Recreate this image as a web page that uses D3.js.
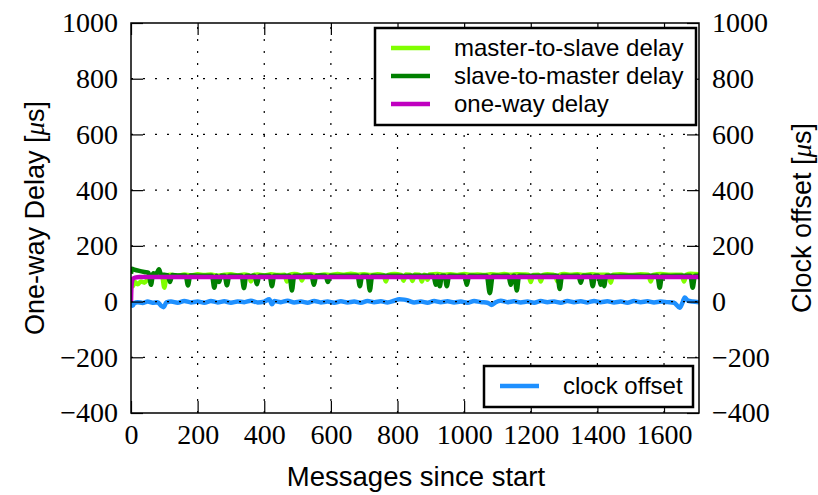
<!DOCTYPE html>
<html><head><meta charset="utf-8">
<script src="https://cdn.jsdelivr.net/npm/d3@7"></script>
<style>body{margin:0;background:#fff}svg{display:block}
.serifText{font-family:'Liberation Serif';}
.sansText{font-family:'Liberation Sans';}
</style>
</head><body>
<script>
// ---- data ----
const xTicks = [0,200,400,600,800,1000,1200,1400,1600];
const yTicks = [-400,-200,0,200,400,600,800,1000];
const xMax = 1705;

const masterToSlave = [[0,60],[5,55],[12,70],[20,62],[30,72],[40,68],[50,80],[60,92],[70,95],[85,93],[93,94],[100,50],[107,92],[120,96],[140,93],[160,97],[180,94],[200,98],[220,95],[240,97],[260,93],[280,96],[300,98],[320,94],[340,97],[353,95],[360,72],[367,95],[380,97],[400,94],[420,98],[440,95],[461,96],[468,72],[475,96],[490,99],[506,95],[513,76],[520,96],[540,98],[560,94],[580,97],[600,95],[620,99],[640,96],[660,100],[680,96],[700,98],[720,95],[740,98],[758,95],[765,72],[772,96],[790,99],[811,96],[818,75],[825,97],[838,96],[845,74],[852,97],[866,96],[873,72],[880,96],[884,95],[890,78],[896,97],[920,99],[940,96],[960,98],[980,95],[1000,99],[1020,96],[1040,97],[1060,95],[1080,98],[1100,96],[1120,99],[1140,96],[1160,98],[1180,97],[1193,96],[1200,70],[1207,95],[1223,96],[1230,72],[1237,96],[1250,98],[1268,96],[1273,95],[1280,72],[1287,96],[1300,99],[1320,96],[1340,98],[1360,95],[1380,98],[1400,96],[1433,96],[1440,68],[1447,96],[1470,98],[1500,95],[1530,98],[1553,96],[1560,72],[1567,96],[1590,99],[1620,96],[1653,96],[1660,72],[1667,96],[1680,100],[1705,98]];

const slaveToMaster = [[0,100],[3,118],[10,115],[25,110],[40,106],[53,103],[60,60],[67,102],[75,98],[84,116],[90,98],[100,96],[110,95],[117,70],[124,95],[140,94],[164,94],[171,58],[178,94],[200,93],[243,93],[250,50],[257,93],[264,70],[271,93],[281,93],[288,58],[295,93],[310,93],[332,93],[339,48],[346,93],[360,92],[371,93],[378,62],[385,93],[400,93],[416,93],[423,55],[430,93],[450,92],[476,93],[483,40],[490,93],[510,93],[542,93],[549,60],[556,93],[570,94],[584,93],[591,70],[598,93],[620,92],[650,93],[680,93],[687,55],[694,93],[710,93],[717,40],[724,93],[740,92],[780,93],[820,92],[860,93],[908,93],[915,60],[921,93],[927,55],[933,93],[941,93],[948,55],[955,93],[980,92],[1001,93],[1008,60],[1015,93],[1040,92],[1068,93],[1077,30],[1086,93],[1110,92],[1133,93],[1140,60],[1147,93],[1151,93],[1158,40],[1165,93],[1190,92],[1220,93],[1250,93],[1280,93],[1287,45],[1294,93],[1320,92],[1343,93],[1350,68],[1357,93],[1379,93],[1386,55],[1393,93],[1403,93],[1410,60],[1415,85],[1420,55],[1427,93],[1460,92],[1500,93],[1540,92],[1580,93],[1587,50],[1594,93],[1620,92],[1650,93],[1679,93],[1686,50],[1693,93],[1705,93]];

const oneWayDelay = [[0,0],[1,45],[3,72],[6,82],[12,86],[25,88],[200,88],[600,88],[1000,88],[1400,88],[1705,88]];

const clockOffset = [[0,-3],[5,-15],[10,-5],[20,-2],[35,-5],[50,0],[65,-4],[80,-2],[90,-15],[98,-20],[106,-3],[120,0],[140,-4],[160,2],[180,-3],[200,0],[220,-4],[240,2],[260,-3],[280,1],[300,-4],[320,0],[340,-2],[360,3],[380,-3],[400,0],[415,8],[423,-10],[430,2],[450,-2],[470,3],[490,-3],[510,0],[530,-4],[550,2],[570,-3],[590,0],[610,-4],[630,1],[650,-3],[670,0],[690,-4],[710,2],[730,-2],[750,1],[770,-3],[790,3],[805,8],[820,7],[835,2],[850,-3],[870,0],[890,-4],[910,2],[930,-2],[950,1],[970,-3],[990,0],[1010,-4],[1030,2],[1050,-2],[1070,-4],[1083,-12],[1095,-2],[1110,3],[1130,-2],[1150,1],[1170,-3],[1190,0],[1210,-4],[1230,2],[1250,-2],[1270,0],[1290,-4],[1310,2],[1330,-2],[1350,1],[1370,-3],[1390,2],[1410,-2],[1430,1],[1450,-3],[1470,0],[1490,-4],[1510,2],[1530,-2],[1550,1],[1570,-3],[1590,0],[1610,-2],[1630,-4],[1647,-22],[1655,-5],[1662,15],[1670,5],[1685,0],[1705,-2]];

const legendTop = ["master-to-slave delay","slave-to-master delay","one-way delay"];
const legendBottom = ["clock offset"];
const colors = {m2s:"#80ff00", s2m:"#008000", owd:"#c000c0", clk:"#1e90ff"};

// ---- layout ----
const W = 818, H = 495;
const L = 131, R = 699, T = 23, B = 413;
const svg = d3.select("body").append("svg").attr("width", W).attr("height", H);
const x = d3.scaleLinear().domain([0, xMax]).range([L, R]);
const y = d3.scaleLinear().domain([-400, 1000]).range([B, T]);
const y2 = d3.scaleLinear().domain([-400, 1000]).range([B, T]);

const line = d3.line().curve(d3.curveMonotoneX).x(d => x(d[0])).y(d => y(d[1]));
const line2 = d3.line().curve(d3.curveMonotoneX).x(d => x(d[0])).y(d => y2(d[1]));

svg.append("clipPath").attr("id","clip").append("rect")
  .attr("x", L).attr("y", T).attr("width", R-L).attr("height", B-T);

// clock offset (drawn first, under grid)
svg.append("path").datum(clockOffset).attr("d", line2).attr("fill","none")
  .attr("stroke", colors.clk).attr("stroke-width", 4.5).attr("stroke-linejoin","round")
  .attr("clip-path","url(#clip)");

// grid
const grid = svg.append("g").attr("stroke","#000").attr("stroke-width",1.2)
  .attr("stroke-dasharray","2,10");
grid.selectAll("line.gx").data(xTicks.filter(t => t > 0)).join("line")
  .attr("x1", d => x(d)).attr("x2", d => x(d)).attr("y1", B).attr("y2", T);
grid.selectAll("line.gy").data(yTicks.filter(t => t > -400 && t < 1000)).join("line")
  .attr("y1", d => y(d)).attr("y2", d => y(d)).attr("x1", L).attr("x2", R);

// delay lines
const dl = svg.append("g").attr("clip-path","url(#clip)").attr("fill","none")
  .attr("stroke-linejoin","round");
dl.append("path").datum(masterToSlave).attr("d", line).attr("stroke", colors.m2s).attr("stroke-width", 4.5);
dl.append("path").datum(slaveToMaster).attr("d", line).attr("stroke", colors.s2m).attr("stroke-width", 4.5);
dl.append("path").datum(oneWayDelay).attr("d", line)
  .attr("stroke", colors.owd).attr("stroke-width", 4.5);

// axes with inward ticks
const tickLen = 12;
const fmt = d => d < 0 ? "\u2212" + Math.abs(d) : String(d);
const axB = d3.axisBottom(x).tickValues(xTicks).tickSize(-tickLen).tickPadding(11).tickFormat(fmt);
const axT = d3.axisTop(x).tickValues(xTicks).tickSize(-tickLen).tickFormat("");
const axL = d3.axisLeft(y).tickValues(yTicks).tickSize(-tickLen).tickPadding(13).tickFormat(fmt);
const axR = d3.axisRight(y2).tickValues(yTicks).tickSize(-tickLen).tickPadding(13).tickFormat(fmt);

function style(g){
  g.attr("font-family", "Liberation Serif").attr("font-size", 28);
  g.select(".domain").remove();
  g.selectAll(".tick line").attr("stroke","#000").attr("stroke-width",1.2);
  g.selectAll(".tick text").attr("fill","#000").attr("class","serifText");
}
svg.append("g").attr("transform",`translate(0,${B})`).call(axB).call(style);
svg.append("g").attr("transform",`translate(0,${T})`).call(axT).call(style);
svg.append("g").attr("transform",`translate(${L},0)`).call(axL).call(style);
svg.append("g").attr("transform",`translate(${R},0)`).call(axR).call(style);

// frame
svg.append("rect").attr("x", L).attr("y", T).attr("width", R-L).attr("height", B-T)
  .attr("fill","none").attr("stroke","#000").attr("stroke-width",1.5);

// axis titles
svg.append("text").attr("class","sansText").attr("x", 416).attr("y", 486).attr("text-anchor","middle")
  .attr("font-size", 27.5).text("Messages since start");
function yTitle(tx, ty, label){
  const t = svg.append("text").attr("class","sansText").attr("transform",`translate(${tx},${ty}) rotate(-90)`)
    .attr("text-anchor","middle").attr("font-size", 27);
  t.append("tspan").text(label + " [");
  t.append("tspan").attr("class","serifText").attr("font-style","italic").text("\u03bc");
  t.append("tspan").text("s]");
}
yTitle(44, 218, "One-way Delay");
yTitle(811, 218, "Clock offset");

// legends
function legend(x0, y0, w, h, items, cols){
  const g = svg.append("g");
  g.append("rect").attr("x", x0).attr("y", y0).attr("width", w).attr("height", h)
    .attr("fill","#fff").attr("stroke","#000").attr("stroke-width",2.5);
  items.forEach((name, i) => {
    const cy = y0 + 20 + i * 28;
    g.append("line").attr("x1", x0 + 16).attr("x2", x0 + 55).attr("y1", cy).attr("y2", cy)
      .attr("stroke", cols[i]).attr("stroke-width", 4.5);
    g.append("text").attr("class","sansText").attr("x", x0 + 79).attr("y", cy).attr("dy","0.35em")
      .attr("font-size", 24).text(name);
  });
}
legend(375, 28, 321, 97, legendTop, [colors.m2s, colors.s2m, colors.owd]);
legend(484, 366, 209, 41, legendBottom, [colors.clk]);
</script>
</body></html>
